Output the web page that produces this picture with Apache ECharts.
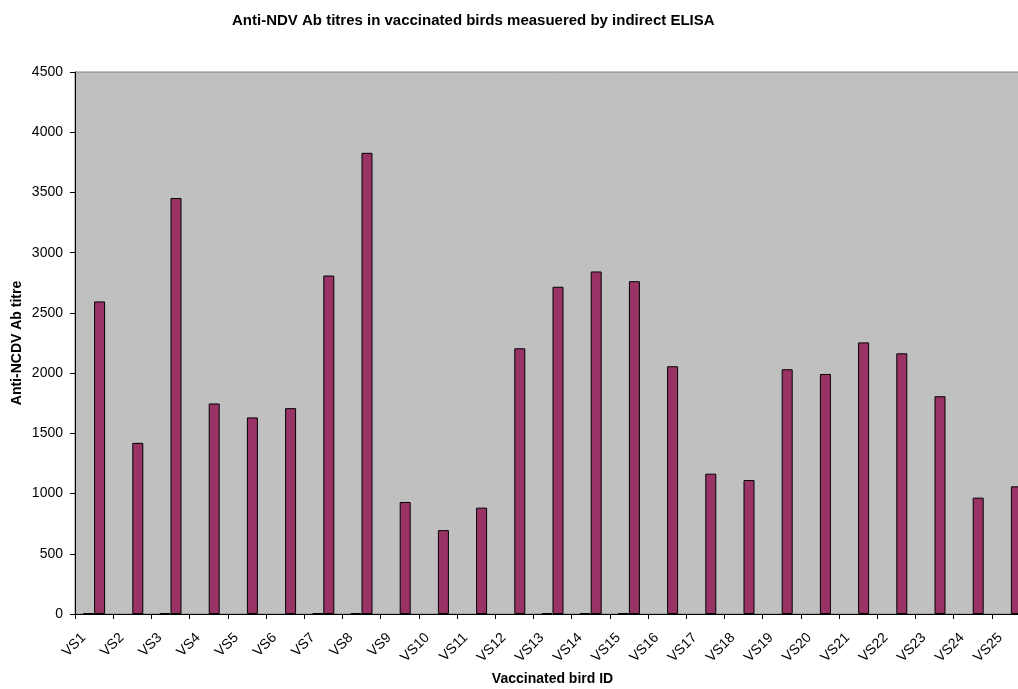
<!DOCTYPE html>
<html>
<head>
<meta charset="utf-8">
<script src="https://cdn.jsdelivr.net/npm/echarts@6/dist/echarts.min.js"></script>
<style>
html,body{margin:0;padding:0;background:#fff;overflow:hidden;width:1018px;height:689px;}
#chart{width:1040px;height:689px;}
</style>
</head>
<body>
<div id="chart"></div>
<script>
const categories = ["VS1","VS2","VS3","VS4","VS5","VS6","VS7","VS8","VS9","VS10","VS11","VS12","VS13","VS14","VS15","VS16","VS17","VS18","VS19","VS20","VS21","VS22","VS23","VS24","VS25"];
const seriesA = [6,null,6,null,null,null,6,6,null,null,null,null,6,6,6,null,null,null,null,null,null,null,null,null,null];
const seriesB = [2595,1421,3454,1748,1632,1709,2810,3829,930,696,883,2206,2717,2844,2763,2057,1165,1112,2032,1993,2255,2164,1808,966,1060];
const yTicks = {min:0, max:4500, interval:500};

const FONT = "'Liberation Sans', Arial, sans-serif";
const chart = echarts.init(document.getElementById('chart'), null, {renderer:'canvas'});
chart.setOption({
  animation:false,
  backgroundColor:'#ffffff',
  title:{
    text:'Anti-NDV Ab titres in vaccinated birds measuered by indirect ELISA',
    left:227, top:8,
    textStyle:{fontFamily:FONT, fontSize:15, fontWeight:'bold', color:'#000'}
  },
  grid:{
    left:75, right:10, top:72, bottom:75,
    outerBoundsMode:'none', containLabel:false,
    show:true, backgroundColor:'#C0C0C0', borderColor:'#808080', borderWidth:1
  },
  xAxis:{
    type:'category',
    data:categories,
    name:'Vaccinated bird ID',
    nameLocation:'middle',
    nameGap:58,
    nameMoveOverlap:false,
    nameTextStyle:{fontFamily:FONT, fontSize:14, fontWeight:'bold', color:'#000'},
    axisLine:{lineStyle:{color:'#000', width:1}},
    axisTick:{show:true, length:5, lineStyle:{color:'#000'}},
    axisLabel:{rotate:45, interval:0, margin:11, padding:[0,15,0,0], fontFamily:FONT, fontSize:14, color:'#000'},
    splitLine:{show:false}
  },
  yAxis:{
    type:'value',
    min:yTicks.min, max:yTicks.max, interval:yTicks.interval,
    name:'Anti-NCDV Ab titre',
    nameLocation:'middle',
    nameGap:51,
    nameMoveOverlap:false,
    nameTextStyle:{fontFamily:FONT, fontSize:14, fontWeight:'bold', color:'#000'},
    axisLine:{show:true, lineStyle:{color:'#000', width:1}},
    axisTick:{show:true, length:5, lineStyle:{color:'#000'}},
    axisLabel:{margin:12, fontFamily:FONT, fontSize:14, color:'#000', formatter:function(v){return String(v);}},
    splitLine:{show:false}
  },
  series:[
    {type:'bar', data:seriesA, barWidth:11, barGap:'0%',
     itemStyle:{color:'#9999FF', borderColor:'#000', borderWidth:1}},
    {type:'bar', data:seriesB, barWidth:11, barGap:'0%',
     itemStyle:{color:'#993366', borderColor:'#000', borderWidth:1}}
  ]
});
</script>
</body>
</html>
